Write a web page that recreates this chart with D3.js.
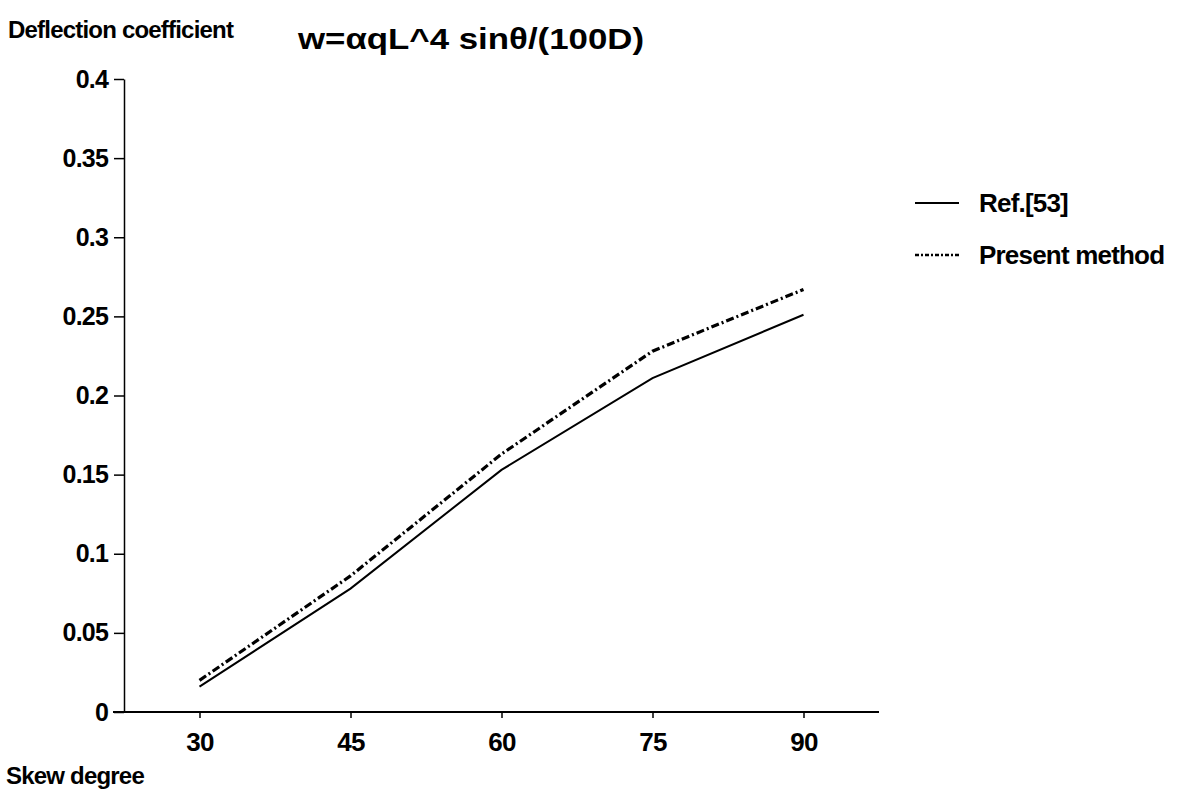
<!DOCTYPE html>
<html>
<head>
<meta charset="utf-8">
<script src="https://cdn.jsdelivr.net/npm/d3@7"></script>
<style>
  body { margin: 0; background: #fff; }
  svg text { font-family: "Liberation Sans", Arial, sans-serif; fill: #000; }
</style>
</head>
<body>
<svg id="chart"></svg>
<script>
const skew = [30, 45, 60, 75, 90];
const refValues = [0.016, 0.078, 0.153, 0.211, 0.251];
const presentValues = [0.020, 0.086, 0.163, 0.228, 0.267];
const yTicks = [0, 0.05, 0.1, 0.15, 0.2, 0.25, 0.3, 0.35, 0.4];
const seriesNames = ["Ref.[53]", "Present method"];

const width = 1181, height = 806;

const svg = d3.select("#chart")
  .attr("width", width)
  .attr("height", height);

const x = d3.scaleLinear().domain([22.5, 97.5]).range([124, 879]);
const y = d3.scaleLinear().domain([0, 0.4]).range([712, 79]);

// x axis
const xAxis = svg.append("g")
  .attr("transform", `translate(0,${y(0)})`)
  .call(d3.axisBottom(x).tickValues(skew).tickSize(6).tickSizeOuter(0).tickPadding(15));
xAxis.select(".domain").remove();
xAxis.append("line")
  .attr("x1", 113).attr("x2", 879)
  .attr("stroke", "#000").attr("stroke-width", 2);
xAxis.selectAll(".tick line").attr("stroke-width", 1.5);
xAxis.selectAll("text")
  .attr("font-size", 26).attr("font-weight", "bold").attr("letter-spacing", -0.8);

// y axis
const yAxis = svg.append("g")
  .attr("transform", `translate(${x(22.5)},0)`)
  .call(d3.axisLeft(y).tickValues(yTicks).tickFormat(d3.format("")).tickSize(10).tickSizeOuter(0).tickPadding(6));
yAxis.select(".domain").attr("stroke-width", 1.5);
yAxis.selectAll(".tick line").attr("stroke-width", 1.5);
yAxis.selectAll("text")
  .attr("font-size", 25).attr("font-weight", "bold").attr("letter-spacing", -0.8);

const line = d3.line()
  .x((d, i) => x(skew[i]))
  .y(d => y(d));

svg.append("path")
  .datum(refValues)
  .attr("d", line)
  .attr("fill", "none")
  .attr("stroke", "#000")
  .attr("stroke-width", 2);

svg.append("path")
  .datum(presentValues)
  .attr("d", line)
  .attr("fill", "none")
  .attr("stroke", "#000")
  .attr("stroke-width", 3.2)
  .attr("stroke-dasharray", "8,3,2,3");

// legend
const legend = svg.append("g");
[
  { y: 203, dash: null, w: 2 },
  { y: 255, dash: "4,2,2,2", w: 2.5 }
].forEach((s, i) => {
  legend.append("line")
    .attr("x1", 915).attr("x2", 959)
    .attr("y1", s.y).attr("y2", s.y)
    .attr("stroke", "#000")
    .attr("stroke-width", s.w)
    .attr("stroke-dasharray", s.dash);
  legend.append("text")
    .attr("x", 979).attr("y", s.y + 9)
    .attr("font-size", 26).attr("font-weight", "bold").attr("letter-spacing", -0.8)
    .text(seriesNames[i]);
});

// titles
svg.append("text")
  .attr("x", 8).attr("y", 38)
  .attr("font-size", 24).attr("font-weight", "bold").attr("letter-spacing", -0.8)
  .text("Deflection coefficient");

svg.append("text")
  .attr("x", 298).attr("y", 49)
  .attr("font-size", 29)
  .attr("textLength", 346).attr("lengthAdjust", "spacingAndGlyphs")
  .style("font-weight", 600)
  .text("w=αqL^4 sinθ/(100D)");

svg.append("text")
  .attr("x", 6).attr("y", 784)
  .attr("font-size", 24).attr("font-weight", "bold").attr("letter-spacing", -0.8)
  .text("Skew degree");
</script>
</body>
</html>
